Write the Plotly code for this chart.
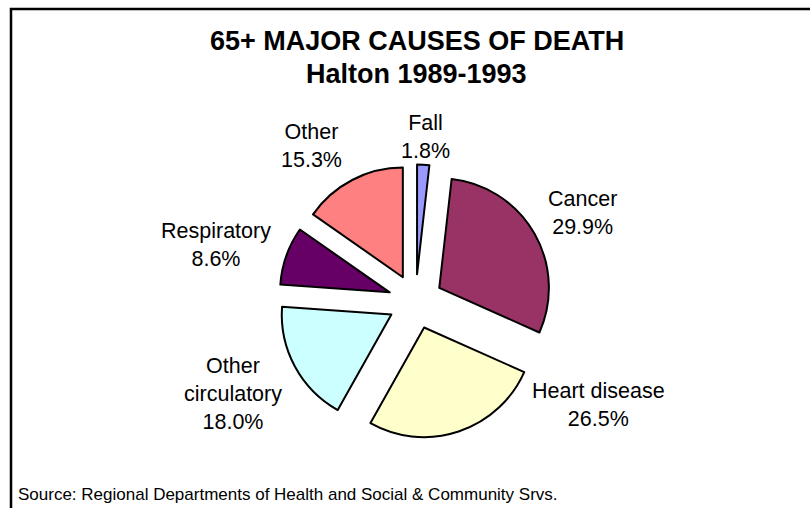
import plotly.graph_objects as go

categories = ["Fall", "Cancer", "Heart disease", "Other circulatory", "Respiratory", "Other"]
display_labels = ["Fall", "Cancer", "Heart disease", "Other<br>circulatory", "Respiratory", "Other"]
values = [1.8, 29.9, 26.5, 18.0, 8.6, 15.3]
colors = ["#9999FF", "#993366", "#FFFFCC", "#CCFFFF", "#660066", "#FF8080"]

W, H = 810, 508
# label centers in pixels (layout)
label_pos = [(425, 137), (582, 213), (598, 405), (233, 394), (216, 245), (311, 146)]

cx, cy, half = 415.5, 301.5, 137

fig = go.Figure(go.Pie(
    labels=categories,
    values=values,
    sort=False,
    direction="clockwise",
    rotation=0,
    pull=[0.25] * len(values),
    marker=dict(colors=colors, line=dict(color="black", width=2)),
    textinfo="none",
    hoverinfo="label+percent",
    showlegend=False,
    domain=dict(x=[(cx - half) / W, (cx + half) / W], y=[1 - (cy + half) / H, 1 - (cy - half) / H]),
))

font_family = "Liberation Sans, Arial, sans-serif"
annotations = []
for lab, v, (px, py) in zip(display_labels, values, label_pos):
    annotations.append(dict(
        x=px / W, y=1 - py / H, xref="paper", yref="paper",
        text=f"{lab}<br>{v:.1f}%", showarrow=False,
        xanchor="center", yanchor="middle", align="center",
        font=dict(family=font_family, size=21.5, color="black"),
    ))

annotations.append(dict(x=416.5 / W, y=1 - 41 / H, xref="paper", yref="paper",
                        text="<b>65+ MAJOR CAUSES OF DEATH</b>", showarrow=False,
                        xanchor="center", yanchor="middle",
                        font=dict(family=font_family, size=27, color="black")))
annotations.append(dict(x=416.5 / W, y=1 - 74.5 / H, xref="paper", yref="paper",
                        text="<b>Halton 1989-1993</b>", showarrow=False,
                        xanchor="center", yanchor="middle",
                        font=dict(family=font_family, size=27, color="black")))
annotations.append(dict(x=16 / W, y=1 - 494 / H, xref="paper", yref="paper",
                        text="Source: Regional Departments of Health and Social & Community Srvs.",
                        showarrow=False, xanchor="left", yanchor="middle",
                        font=dict(family=font_family, size=17, color="black")))

fig.update_layout(
    width=W, height=H,
    margin=dict(l=0, r=0, t=0, b=0),
    paper_bgcolor="white",
    plot_bgcolor="white",
    annotations=annotations,
    shapes=[dict(type="rect", xref="paper", yref="paper",
                 x0=11 / W, y0=-0.05, x1=1.05, y1=1 - 9 / H,
                 line=dict(color="black", width=2.5))],
)

fig.write_html("out.html", config={"displayModeBar": False},
               post_script="document.body.style.margin='0';document.body.style.overflow='hidden';")
